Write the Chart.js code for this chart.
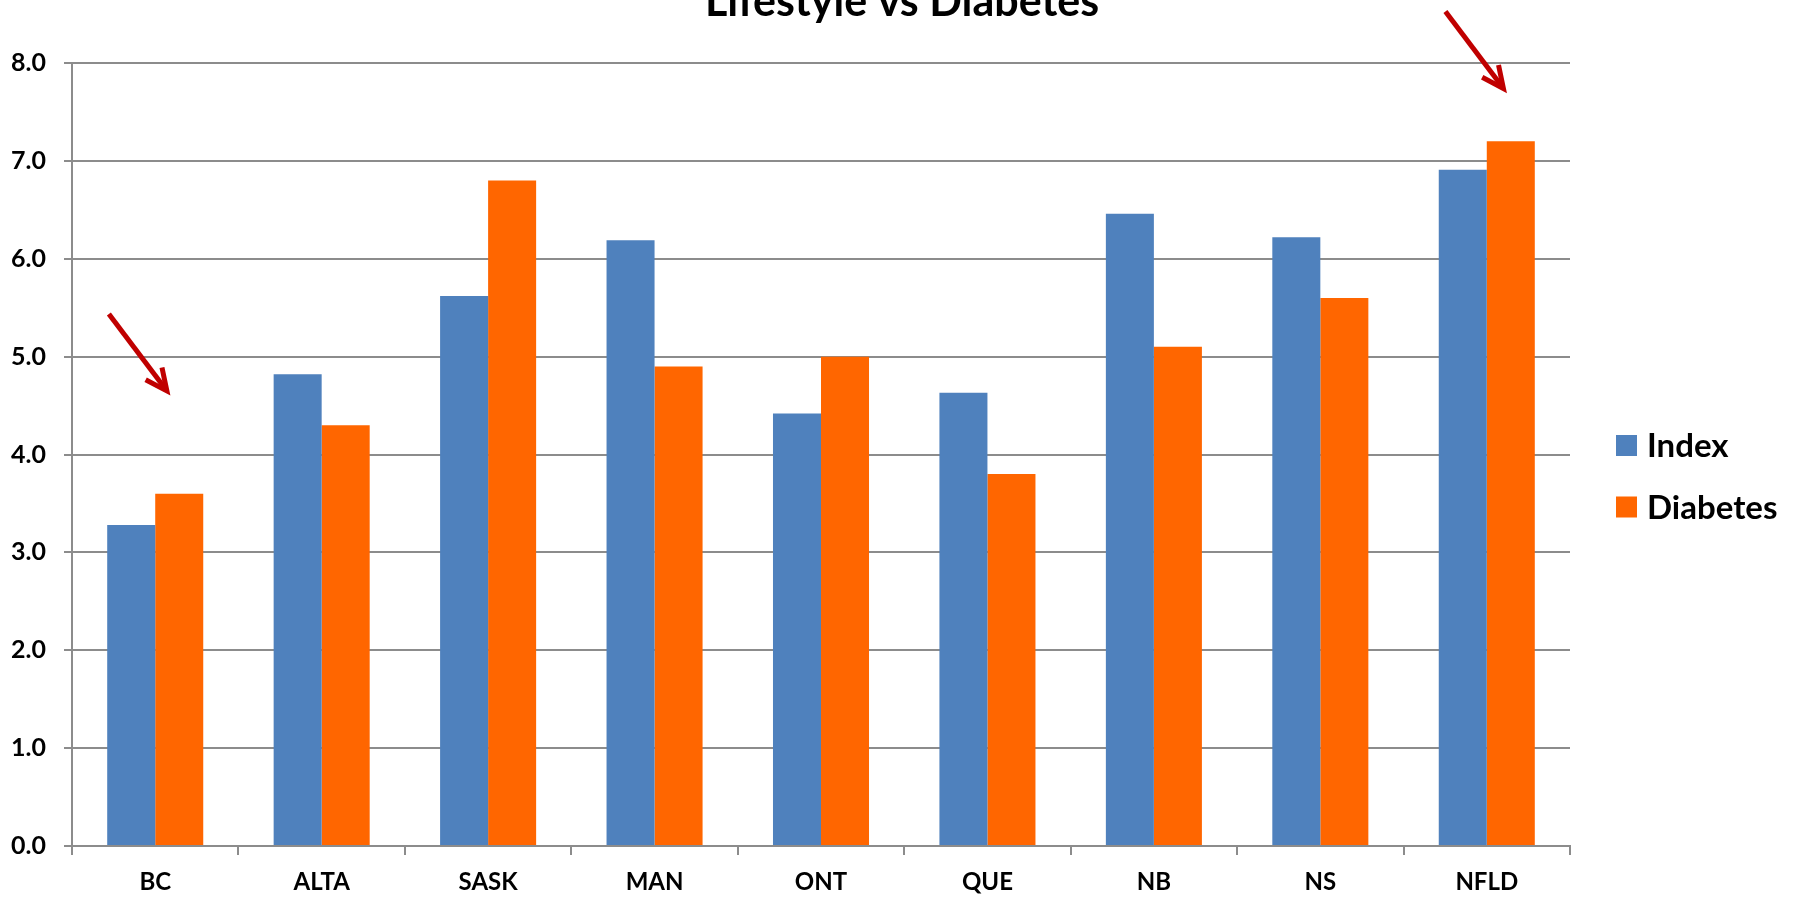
<!DOCTYPE html>
<html>
<head>
<meta charset="utf-8">
<title>Lifestyle vs Diabetes</title>
<script src="https://cdn.jsdelivr.net/npm/chart.js@4.4.1/dist/chart.umd.min.js"></script>
<style>
    html, body { margin: 0; padding: 0; background: #fff; }
    #wrap { width: 1799px; height: 897px; position: relative; }
</style>
</head>
<body>
<div id="wrap"><canvas id="lifestyleChart"></canvas></div>
<script>
// --- Data ---
const provinces = ['BC', 'ALTA', 'SASK', 'MAN', 'ONT', 'QUE', 'NB', 'NS', 'NFLD'];
const indexValues = [3.28, 4.82, 5.62, 6.19, 4.42, 4.63, 6.46, 6.22, 6.91];
const diabetesValues = [3.6, 4.3, 6.8, 4.9, 5.0, 3.8, 5.1, 5.6, 7.2];
const yTicks = [0, 1, 2, 3, 4, 5, 6, 7, 8];
const chartTitle = 'Lifestyle vs Diabetes';

// red arrows: tip position in data space (category index, value)
const arrowAt = [0.07, 8.1];
const arrowTo = [4.65, 7.74];

const FONT = "Lato, 'Open Sans', sans-serif";
const GRID = '#8c8c8c';

// Title is partly clipped at the top of the picture
const titlePlugin = {
    id: 'clippedTitle',
    afterDraw(chart) {
        const ctx = chart.ctx;
        ctx.save();
        ctx.fillStyle = '#000';
        ctx.font = `bold 43px ${FONT}`;
        ctx.textAlign = 'center';
        ctx.textBaseline = 'alphabetic';
        ctx.fillText(chartTitle, 902, 16);
        ctx.restore();
    }
};

// Legend on the right, drawn from the datasets
const sideLegend = {
    id: 'sideLegend',
    afterDraw(chart) {
        const ctx = chart.ctx;
        ctx.save();
        ctx.font = `bold 33px ${FONT}`;
        ctx.textBaseline = 'middle';
        chart.data.datasets.forEach((ds, i) => {
            const cy = 445.5 + i * 61.5;
            ctx.fillStyle = ds.backgroundColor;
            ctx.fillRect(1616, cy - 10.5, 21, 21);
            ctx.fillStyle = '#000';
            ctx.fillText(ds.label, 1647, cy + 1);
        });
        ctx.restore();
    }
};

// Arrows pointing at BC and NFLD
const arrowsPlugin = {
    id: 'arrows',
    afterDatasetsDraw(chart) {
        const ctx = chart.ctx;
        const xs = chart.scales.x, ys = chart.scales.y;
        ctx.save();
        ctx.strokeStyle = '#C00000';
        ctx.lineWidth = 5;
        ctx.lineCap = 'butt';
        ctx.lineJoin = 'miter';
        arrowAt.forEach((cat, i) => {
            const tx = xs.getPixelForValue(cat);
            const ty = ys.getPixelForValue(arrowTo[i]);
            const sx = tx - 58, sy = ty - 77;
            const ang = Math.atan2(sy - ty, sx - tx);
            ctx.beginPath();
            ctx.moveTo(sx, sy);
            ctx.lineTo(tx + 2 * Math.cos(ang), ty + 2 * Math.sin(ang));
            ctx.stroke();
            const head = 24, spread = 0.44;
            ctx.beginPath();
            ctx.moveTo(tx + head * Math.cos(ang - spread), ty + head * Math.sin(ang - spread));
            ctx.lineTo(tx, ty);
            ctx.lineTo(tx + head * Math.cos(ang + spread), ty + head * Math.sin(ang + spread));
            ctx.stroke();
        });
        ctx.restore();
    }
};

const ctx = document.getElementById('lifestyleChart');

new Chart(ctx, {
    type: 'bar',
    data: {
        labels: provinces,
        datasets: [{
            label: 'Index',
            data: indexValues,
            backgroundColor: '#4F81BD',
            borderWidth: 0
        }, {
            label: 'Diabetes',
            data: diabetesValues,
            backgroundColor: '#FF6600',
            borderWidth: 0
        }]
    },
    options: {
        responsive: true,
        maintainAspectRatio: false,
        animation: false,
        layout: {
            padding: { top: 63, right: 229, left: 0, bottom: 0 }
        },
        categoryPercentage: 0.577,
        barPercentage: 1.0,
        plugins: {
            legend: { display: false },
            title: { display: false },
            tooltip: { enabled: false }
        },
        scales: {
            x: {
                grid: {
                    offset: true,
                    drawOnChartArea: false,
                    drawTicks: true,
                    tickLength: 9,
                    color: GRID,
                    lineWidth: 2
                },
                border: { display: true, color: GRID, width: 2 },
                ticks: {
                    color: '#000',
                    padding: 13,
                    font: { family: FONT, size: 24, weight: 'bold' }
                },
                afterFit: (scale) => { scale.height = 51; }
            },
            y: {
                min: 0,
                max: 8,
                afterBuildTicks: (scale) => {
                    scale.ticks = yTicks.map(v => ({ value: v }));
                },
                grid: {
                    color: GRID,
                    lineWidth: 2,
                    tickLength: 8
                },
                border: { display: true, color: GRID, width: 2 },
                ticks: {
                    color: '#000',
                    padding: 18,
                    font: { family: FONT, size: 25, weight: 'bold' },
                    callback: (v) => Number(v).toFixed(1)
                },
                afterFit: (scale) => { scale.width = 72; }
            }
        }
    },
    plugins: [arrowsPlugin, titlePlugin, sideLegend]
});
</script>
</body>
</html>
